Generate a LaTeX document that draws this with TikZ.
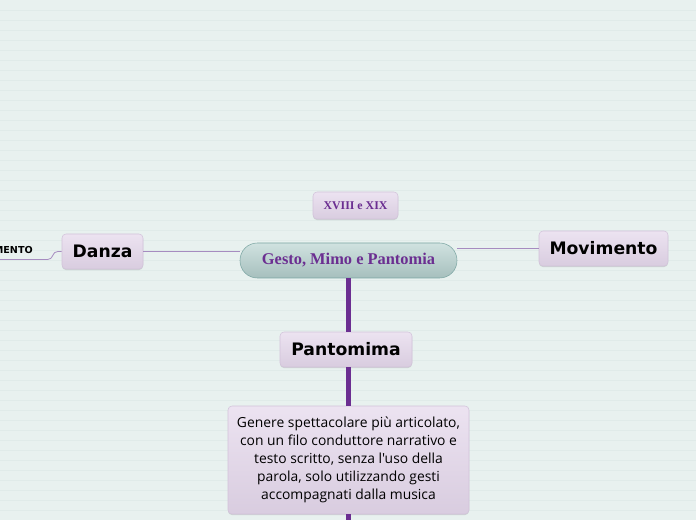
\documentclass[tikz,border=0pt]{standalone}
\usepackage{fontspec}
\setmainfont{Liberation Serif}
\newfontfamily\dejavu{DejaVu Sans}
\newfontfamily\opensans{Open Sans}
\usepackage{tikz}
\usetikzlibrary{positioning,calc,shadows}
\definecolor{sfondo}{HTML}{E8F1EF}
\definecolor{riga}{HTML}{E0EBE9}
\definecolor{viola}{HTML}{6B2E91}
\definecolor{violachiaro}{HTML}{A68CC0}
\definecolor{lilla}{HTML}{E4D7EB}
\definecolor{lillabordo}{HTML}{D2C2DA}
\definecolor{tealsu}{HTML}{D0E2E0}
\definecolor{tealgiu}{HTML}{A6BFBD}
\definecolor{tealbordo}{HTML}{7CA6A3}

\begin{document}
\begin{tikzpicture}[
    x=0.75pt, y=-0.75pt,
    tema/.style={draw=lillabordo, top color=lilla!70!white, bottom color=lilla!95!black, rounded corners=3pt, inner sep=0pt,
        drop shadow={shadow xshift=0pt, shadow yshift=-0.8pt, opacity=0.25}},
    titolo/.style={tema, font=\dejavu\bfseries\fontsize{12.9}{15}\selectfont, text=black, minimum height=26.25pt},
    centrale/.style={draw=tealbordo, top color=tealsu, bottom color=tealgiu, rounded corners=13pt, inner sep=0pt,
        minimum width=162.75pt, minimum height=26.25pt, font=\bfseries\fontsize{12.3}{14}\selectfont, text=viola},
    ramo/.style={violachiaro, line width=0.6pt},
    tronco/.style={viola, line width=3.6pt}
]

% sfondo a righe
\useasboundingbox (0,0) rectangle (696,520);
\clip (0,0) rectangle (696,520);
\fill[sfondo] (0,0) rectangle (696,520);
\foreach \r in {10,20,...,520} {
    \draw[riga, line width=0.5pt] (0,\r) -- (696,\r);
}

% nodo centrale e figli
\node[centrale] (gesto) at (348.5,260.5) {Gesto, Mimo e Pantomia};
\node[tema, minimum width=63.75pt, minimum height=20.25pt, font=\bfseries\fontsize{8.9}{10}\selectfont, text=viola] (secoli) at (355.5,205.5) {XVIII e XIX};
\node[titolo, minimum width=60.75pt] (danza) at (102.5,251.5) {Danza};
\node[titolo, minimum width=96.75pt] (movimento) at (603.5,248.5) {Movimento};
\node[titolo, minimum width=99pt] (panto) at (346,349.5) {Pantomima};
\node[tema, minimum width=180.75pt, minimum height=81pt, align=center, font=\opensans\fontsize{10.4}{13.5}\selectfont] (genere) at (348.5,460)
    {Genere spettacolare più articolato,\\con un filo conduttore narrativo e\\testo scritto, senza l'uso della\\parola, solo utilizzando gesti\\accompagnati dalla musica};

% etichetta tagliata a sinistra
\node[anchor=base east, inner sep=0pt, font=\dejavu\bfseries\fontsize{7.2}{8}\selectfont] (movim) at (33,254) {MOVIMENTO};
\coordinate (bordo) at (0,259.5);
\coordinate (fondo) at (348.5,520);

% rami sottili
\draw[ramo] (danza.east) -- (danza.east -| gesto.west);
\draw[ramo] (movimento.west) -- (movimento.west -| gesto.east);
\draw[ramo, rounded corners=3pt] (danza.west) -- ++(-8,0) -- ++(-2,8) -- (bordo);

% tronco verticale
\draw[tronco] (gesto.south) -- (gesto.south |- panto.north);
\draw[tronco] (gesto.south |- panto.south) -- (gesto.south |- genere.north);
\draw[tronco] (genere.south) -- (fondo);

\end{tikzpicture}
\end{document}
